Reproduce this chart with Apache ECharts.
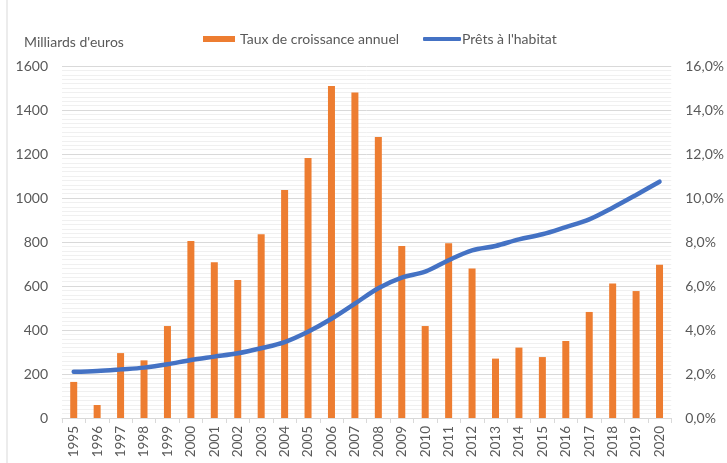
<!DOCTYPE html>
<html>
<head>
<meta charset="utf-8">
<script src="https://cdn.jsdelivr.net/npm/echarts@6/dist/echarts.min.js"></script>
<style>
  html, body { margin: 0; padding: 0; background: #ffffff; }
  #chart { width: 727px; height: 463px; }
</style>
</head>
<body>
<div id="chart"></div>
<script>
// Années
const years = ['1995','1996','1997','1998','1999','2000','2001','2002','2003','2004','2005','2006','2007',
  '2008','2009','2010','2011','2012','2013','2014','2015','2016','2017','2018','2019','2020'];

// Taux de croissance annuel (%)
const growthRate = [1.64, 0.59, 2.95, 2.62, 4.18, 8.05, 7.08, 6.27, 8.35, 10.36, 11.82, 15.09, 14.79,
  12.77, 7.82, 4.18, 7.94, 6.79, 2.70, 3.20, 2.77, 3.50, 4.82, 6.11, 5.77, 6.97];

// Encours des prêts à l'habitat (milliards d'euros)
const housingLoans = [210, 214, 221, 229, 244, 264, 279, 294, 317, 345, 392, 451, 520,
  590, 638, 665, 717, 762, 782, 812, 835, 868, 903, 956, 1014, 1074];

const textColor = '#595959';
const fontFamily = 'Lato';

const chart = echarts.init(document.getElementById('chart'), null, { renderer: 'canvas' });

chart.setOption({
  backgroundColor: '#ffffff',
  animation: false,
  textStyle: { fontFamily: fontFamily, color: textColor },
  title: {
    text: "Milliards d'euros",
    left: 19,
    top: 30,
    textStyle: { fontFamily: fontFamily, fontSize: 14, fontWeight: 'normal', color: textColor }
  },
  legend: [
    {
      data: [{ name: 'Taux de croissance annuel', icon: 'rect' }],
      left: 198, top: 27,
      itemWidth: 32, itemHeight: 6, itemGap: 0,
      textStyle: { fontFamily: fontFamily, fontSize: 14, color: textColor, padding: [0, 0, 0, 0] }
    },
    {
      data: [{ name: "Prêts à l'habitat", icon: 'roundRect' }],
      left: 418, top: 27,
      itemWidth: 38, itemHeight: 4, itemGap: 0,
      textStyle: { fontFamily: fontFamily, fontSize: 14, color: textColor, padding: [0, 0, 0, -4] }
    }
  ],
  grid: { left: 62, right: 50, top: 66, bottom: 45 },
  xAxis: {
    type: 'category',
    data: years,
    boundaryGap: true,
    axisLine: { show: true, lineStyle: { color: '#d9d9d9', width: 1 } },
    axisTick: { show: true, interval: 0, length: 5, lineStyle: { color: '#d9d9d9' } },
    axisLabel: { rotate: 90, interval: 0, margin: 8, fontSize: 13.5, color: textColor, fontFamily: fontFamily }
  },
  yAxis: [
    {
      type: 'value',
      min: 0, max: 1600, interval: 200,
      axisLine: { show: false },
      axisTick: { show: false },
      axisLabel: {
        margin: 14, fontSize: 14, color: textColor, fontFamily: fontFamily,
        formatter: v => String(v)
      },
      splitLine: { show: true, lineStyle: { color: '#d9d9d9', width: 1 } },
      minorTick: { show: false, splitNumber: 10 },
      minorSplitLine: { show: true, lineStyle: { color: '#f0f0f0', width: 1 } }
    },
    {
      type: 'value',
      min: 0, max: 16, interval: 2,
      axisLine: { show: false },
      axisTick: { show: false },
      splitLine: { show: false },
      axisLabel: {
        margin: 14, fontSize: 14, color: textColor, fontFamily: fontFamily,
        formatter: v => v.toFixed(1).replace('.', ',') + '%'
      }
    }
  ],
  series: [
    {
      name: 'Taux de croissance annuel',
      type: 'bar',
      yAxisIndex: 1,
      data: growthRate,
      barWidth: 7,
      itemStyle: { color: '#ed7d31' },
      z: 2
    },
    {
      name: "Prêts à l'habitat",
      type: 'line',
      yAxisIndex: 0,
      data: housingLoans,
      smooth: 0.35,
      symbol: 'none',
      lineStyle: { color: '#4472c4', width: 4.5, cap: 'round' },
      itemStyle: { color: '#4472c4' },
      z: 3
    }
  ],
  graphic: [
    {
      type: 'line',
      shape: { x1: 7, y1: 0, x2: 7, y2: 463 },
      style: { stroke: '#d9d9d9', lineWidth: 1 },
      silent: true
    }
  ]
});
</script>
</body>
</html>
